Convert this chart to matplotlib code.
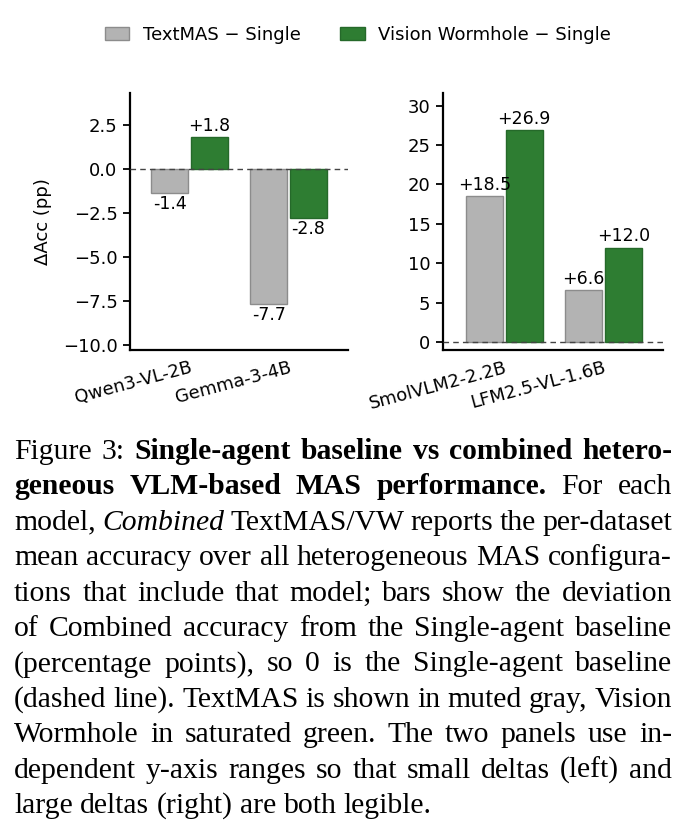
import matplotlib
matplotlib.use("Agg")
import matplotlib.pyplot as plt
from matplotlib.patches import Patch

# ---------------- data ----------------
left_models = ["Qwen3-VL-2B", "Gemma-3-4B"]
left_textmas = [-1.4, -7.7]
left_vw = [1.8, -2.8]

right_models = ["SmolVLM2-2.2B", "LFM2.5-VL-1.6B"]
right_textmas = [18.5, 6.6]
right_vw = [26.9, 12.0]

left_yticks = [-10.0, -7.5, -5.0, -2.5, 0.0, 2.5]
right_yticks = [0, 5, 10, 15, 20, 25, 30]

series_labels = ["TextMAS \u2212 Single", "Vision Wormhole \u2212 Single"]
ylabel = "\u0394Acc (pp)"

# caption: list of lines, each line a list of (text, style) segments
caption_lines = [
    [("Figure 3:", "n"), ("Single-agent baseline vs combined hetero-", "b")],
    [("geneous VLM-based MAS performance.", "b"), ("For each", "n")],
    [("model,", "n"), ("Combined", "i"), ("TextMAS/VW reports the per-dataset", "n")],
    [("mean accuracy over all heterogeneous MAS configura-", "n")],
    [("tions that include that model; bars show the deviation", "n")],
    [("of Combined accuracy from the Single-agent baseline", "n")],
    [("(percentage points), so 0 is the Single-agent baseline", "n")],
    [("(dashed line). TextMAS is shown in muted gray, Vision", "n")],
    [("Wormhole in saturated green. The two panels use in-", "n")],
    [("dependent y-axis ranges so that small deltas (left) and", "n")],
    [("large deltas (right) are both legible.", "n")],
]

# ---------------- style ----------------
W, H = 692, 839
GRAY = "#b3b3b3"
GRAY_EDGE = "#8c8c8c"
GREEN = "#2e7d32"
GREEN_EDGE = "#25692a"
FS = 13
ANN_FS = 12.5

plt.rcParams["font.family"] = ["DejaVu Sans"]
fig = plt.figure(figsize=(W / 100, H / 100), dpi=100)


def fx(px):
    return px / W


def fy(py):
    return 1 - py / H


def draw_panel(ax, models, tm, vw, yticks, ylim, xlim):
    xs = list(range(len(models)))
    bw = 0.37
    off = 0.2
    b1 = ax.bar([x - off for x in xs], tm, width=bw, color=GRAY,
                edgecolor=GRAY_EDGE, linewidth=1.0, zorder=2)
    b2 = ax.bar([x + off for x in xs], vw, width=bw, color=GREEN,
                edgecolor=GREEN_EDGE, linewidth=1.0, zorder=2)
    ax.axhline(0, color="#444444", lw=1.0, ls=(0, (4, 3)), zorder=3)
    for bars, vals in ((b1, tm), (b2, vw)):
        for r, v in zip(bars, vals):
            cx = r.get_x() + r.get_width() / 2
            if v >= 0:
                ax.annotate(f"+{v:.1f}", (cx, v), xytext=(0, 1.5),
                            textcoords="offset points", ha="center",
                            va="bottom", fontsize=ANN_FS)
            else:
                ax.annotate(f"-{abs(v):.1f}", (cx, v), xytext=(0, -1.5),
                            textcoords="offset points", ha="center",
                            va="top", fontsize=ANN_FS)
    ax.set_xlim(*xlim)
    ax.set_ylim(*ylim)
    ax.set_yticks(yticks)
    ax.set_xticks(xs)
    ax.set_xticklabels(models, rotation=15, ha="right",
                       rotation_mode="anchor", fontsize=FS)
    ax.tick_params(axis="x", length=0, pad=6)
    ax.tick_params(axis="y", length=5, width=1.3, labelsize=FS, pad=4)
    for s in ("top", "right"):
        ax.spines[s].set_visible(False)
    for s in ("left", "bottom"):
        ax.spines[s].set_linewidth(1.6)
    return b1, b2


axL = fig.add_axes([fx(130), fy(350), fx(348) - fx(130), fy(93) - fy(350)])
draw_panel(axL, left_models, left_textmas, left_vw, left_yticks,
           (-10.3, 4.3), (-0.6, 1.6))
axL.set_ylabel(ylabel, fontsize=FS, labelpad=8)

axR = fig.add_axes([fx(443), fy(350), fx(663) - fx(443), fy(93) - fy(350)])
draw_panel(axR, right_models, right_textmas, right_vw, right_yticks,
           (-1.0, 31.6), (-0.62, 1.6))

handles = [Patch(facecolor=GRAY, edgecolor=GRAY_EDGE, lw=1.0),
           Patch(facecolor=GREEN, edgecolor=GREEN_EDGE, lw=1.0)]
fig.legend(handles, series_labels, loc="center", ncol=2,
           bbox_to_anchor=(fx(358), fy(35)), frameon=False, fontsize=FS,
           handlelength=1.35, handleheight=0.75, handletextpad=0.75,
           columnspacing=2.2)

# ---------------- caption (justified) ----------------
renderer = fig.canvas.get_renderer()
CAP_FS = 21.3
SERIF = ["Liberation Serif", "DejaVu Serif"]
X0, X1 = 14, 672
BASE0, LSTEP = 459, 35.4
style_kw = {"n": {}, "b": {"fontweight": "bold"}, "i": {"fontstyle": "italic"}}

for li, line in enumerate(caption_lines):
    words = []
    for txt, st in line:
        for w in txt.split():
            words.append((w, st))
    y = fy(BASE0 + LSTEP * li)
    texts = []
    widths = []
    for w, st in words:
        t = fig.text(0, y, w, fontsize=CAP_FS, family=SERIF, va="baseline",
                     ha="left", **style_kw[st])
        bb = t.get_window_extent(renderer)
        texts.append(t)
        widths.append(bb.width)
    last = li == len(caption_lines) - 1
    natural_space = 0.25 * CAP_FS * 100 / 72
    if last or len(words) < 2:
        gap = natural_space
    else:
        gap = (X1 - X0 - sum(widths)) / (len(words) - 1)
    x = X0
    for t, wdt in zip(texts, widths):
        t.set_x(fx(x))
        x += wdt + gap

fig.savefig("out.png", dpi=100)
